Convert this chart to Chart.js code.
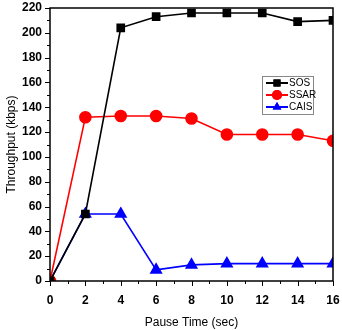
<!DOCTYPE html>
<html>
<head>
<meta charset="utf-8">
<script src="https://cdn.jsdelivr.net/npm/chart.js@4/dist/chart.umd.min.js"></script>
<style>
  html, body { margin: 0; padding: 0; background: #fff; overflow: hidden; }
  #wrap { width: 342px; height: 330px; }
</style>
</head>
<body>
<div id="wrap"><canvas id="throughput"></canvas></div>
<script>
const pauseTimes = [0, 2, 4, 6, 8, 10, 12, 14, 16];
const sosValues = [0, 54, 204, 213, 216, 216, 216, 209, 210];
const ssarValues = [0, 132, 133, 133, 131, 118, 118, 118, 113];
const caisValues = [0, 54, 54, 9, 13, 14, 14, 14, 14];
const seriesNames = ['SOS', 'SSAR', 'CAIS'];
const yTicks = [0, 20, 40, 60, 80, 100, 120, 140, 160, 180, 200, 220];
const xTicks = [0, 2, 4, 6, 8, 10, 12, 14, 16];

const tickFont = { family: 'Liberation Sans, Arial, sans-serif', size: 12, weight: 'bold' };
const titleFont = { family: 'Liberation Sans, Arial, sans-serif', size: 12 };

function toPoints(vals) {
  return pauseTimes.map((t, i) => ({ x: t, y: vals[i] }));
}

// box around the plot plus major/minor outward ticks
const frame = {
  id: 'frame',
  afterDatasetsDraw(chart) {
    const { ctx, chartArea: a, scales } = chart;
    ctx.save();
    ctx.strokeStyle = '#000';
    ctx.lineWidth = 1.5;
    ctx.strokeRect(a.left, a.top, a.right - a.left, a.bottom - a.top);
    ctx.lineWidth = 1;
    ctx.beginPath();
    for (let v = 0; v <= 220; v += 10) {
      const y = Math.round(scales.y.getPixelForValue(v)) + 0.5;
      const len = v % 20 === 0 ? 5 : 3;
      ctx.moveTo(a.left, y);
      ctx.lineTo(a.left - len, y);
    }
    for (let v = 0; v <= 16; v += 1) {
      const x = Math.round(scales.x.getPixelForValue(v)) + 0.5;
      const len = v % 2 === 0 ? 5 : 3;
      ctx.moveTo(x, a.bottom);
      ctx.lineTo(x, a.bottom + len);
    }
    ctx.stroke();
    ctx.restore();
  }
};

// legend box inside the plot
const boxLegend = {
  id: 'boxLegend',
  afterDraw(chart) {
    const { ctx } = chart;
    const x0 = 262, y0 = 76, w = 51, h = 38;
    ctx.save();
    ctx.fillStyle = '#fff';
    ctx.fillRect(x0, y0, w, h);
    ctx.strokeStyle = '#888';
    ctx.lineWidth = 1;
    ctx.strokeRect(x0 + 0.5, y0 + 0.5, w, h);
    chart.data.datasets.forEach((ds, i) => {
      const y = y0 + 7 + i * 12;
      ctx.strokeStyle = ds.borderColor;
      ctx.lineWidth = 2;
      ctx.beginPath();
      ctx.moveTo(x0 + 4, y);
      ctx.lineTo(x0 + 26, y);
      ctx.stroke();
      ctx.fillStyle = ds.borderColor;
      Chart.helpers.drawPoint(ctx, { pointStyle: ds.pointStyle, radius: 5, rotation: 0, borderWidth: 0 }, x0 + 15, y);
      ctx.fill();
      ctx.fillStyle = '#000';
      ctx.font = '10px Liberation Sans, Arial, sans-serif';
      ctx.textBaseline = 'middle';
      ctx.fillText(ds.label, x0 + 27, y + 0.5);
    });
    ctx.restore();
  }
};

const ctx = document.getElementById('throughput');

new Chart(ctx, {
  type: 'line',
  data: {
    datasets: [{
      label: seriesNames[0],
      data: toPoints(sosValues),
      borderColor: '#000000',
      backgroundColor: '#000000',
      pointStyle: 'rect',
      pointRadius: 5,
      borderWidth: 1.6
    }, {
      label: seriesNames[1],
      data: toPoints(ssarValues),
      borderColor: '#ff0000',
      backgroundColor: '#ff0000',
      pointStyle: 'circle',
      pointRadius: 5.5,
      borderWidth: 1.6
    }, {
      label: seriesNames[2],
      data: toPoints(caisValues),
      borderColor: '#0000ff',
      backgroundColor: '#0000ff',
      pointStyle: 'triangle',
      pointRadius: 6,
      borderWidth: 1.6
    }]
  },
  options: {
    responsive: true,
    maintainAspectRatio: false,
    animation: false,
    layout: { padding: { left: 0, top: 8, right: 9, bottom: 0 } },
    plugins: { legend: { display: false }, tooltip: { enabled: false } },
    scales: {
      x: {
        type: 'linear',
        min: 0,
        max: 16,
        afterFit: s => { s.height = 49; },
        afterBuildTicks: s => { s.ticks = xTicks.map(v => ({ value: v })); },
        grid: { display: true, drawOnChartArea: false, drawTicks: true, tickLength: 12, tickColor: 'rgba(0,0,0,0)' },
        border: { display: false },
        ticks: { color: '#000', font: tickFont, padding: 0 },
        title: { display: true, text: 'Pause Time (sec)', color: '#000', font: titleFont, padding: { top: 0, bottom: 0 } }
      },
      y: {
        min: 0,
        max: 220,
        afterFit: s => { s.width = 50; },
        afterBuildTicks: s => { s.ticks = yTicks.map(v => ({ value: v })); },
        grid: { display: true, drawOnChartArea: false, drawTicks: true, tickLength: 8, tickColor: 'rgba(0,0,0,0)' },
        border: { display: false },
        ticks: { color: '#000', font: tickFont, padding: 0 },
        title: { display: true, text: 'Throughput (kbps)', color: '#000', font: titleFont, padding: { top: 4, bottom: 2 } }
      }
    }
  },
  plugins: [frame, boxLegend]
});
</script>
</body>
</html>
